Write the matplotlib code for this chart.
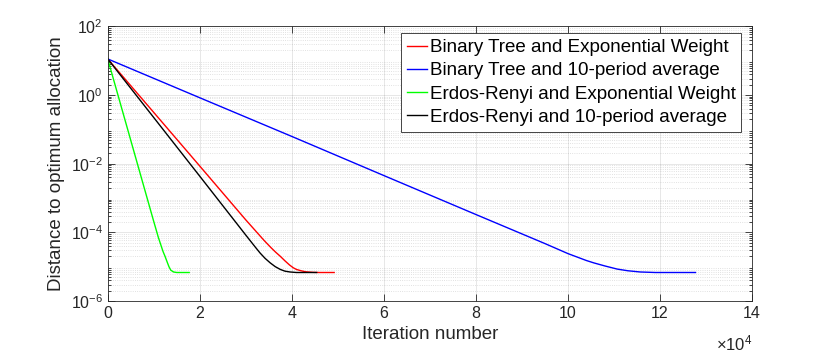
import numpy as np
import matplotlib
matplotlib.use('Agg')
import matplotlib.pyplot as plt
from matplotlib.ticker import FuncFormatter, LogLocator, NullFormatter, NullLocator

plt.rcParams['font.family'] = ['Liberation Sans', 'DejaVu Sans']
plt.rcParams['mathtext.fontset'] = 'custom'
plt.rcParams['mathtext.rm'] = 'Liberation Sans'
plt.rcParams['mathtext.it'] = 'Liberation Sans:italic'

# values (iterations, distance)
bt_exp_x = [0, 1e4, 2e4, 3e4, 3.2e4, 3.4e4, 3.55e4, 3.65e4, 3.75e4, 3.85e4, 3.95e4, 4.03e4,
            4.1e4, 4.2e4, 4.3e4, 4.45e4, 4.6e4, 4.92e4]
bt_exp_y = [11.2, 0.31, 8.5e-3, 2.3e-4, 1.15e-4, 5.75e-5, 3.55e-5, 2.63e-5, 2.0e-5, 1.48e-5,
            1.12e-5, 9.3e-6, 8.3e-6, 7.6e-6, 7.1e-6, 6.84e-6, 6.76e-6, 6.76e-6]

bt_avg_x = [0, 2e4, 4e4, 6e4, 8e4, 9.5e4, 10.0e4, 10.4e4, 10.56e4, 10.8e4, 11.07e4, 11.3e4,
            11.57e4, 11.9e4, 12.77e4]
bt_avg_y = [11.2, 0.83, 0.062, 4.5e-3, 3.3e-4, 4.7e-5, 2.4e-5, 1.51e-5, 1.29e-5, 1.05e-5,
            8.5e-6, 7.6e-6, 7.0e-6, 6.76e-6, 6.76e-6]

er_exp_x = [0, 0.5e4, 0.99e4, 1.1e4, 1.2e4, 1.245e4, 1.29e4, 1.33e4, 1.37e4, 1.43e4, 1.5e4, 1.77e4]
er_exp_y = [11.2, 0.048, 2.3e-4, 7.1e-5, 2.8e-5, 2.0e-5, 1.38e-5, 1.0e-5, 7.9e-6, 7.0e-6,
            6.76e-6, 6.76e-6]

er_avg_x = [0, 1e4, 2e4, 3e4, 3.2e4, 3.31e4, 3.42e4, 3.53e4, 3.64e4, 3.75e4, 3.85e4, 3.96e4,
            4.1e4, 4.54e4]
er_avg_y = [11.2, 0.22, 4.3e-3, 8.3e-5, 3.8e-5, 2.5e-5, 1.74e-5, 1.29e-5, 1.0e-5, 8.3e-6,
            7.4e-6, 7.0e-6, 6.76e-6, 6.76e-6]

labels = ['Binary Tree and Exponential Weight', 'Binary Tree and 10-period average',
          'Erdos-Renyi and Exponential Weight', 'Erdos-Renyi and 10-period average']

axc = '#262626'

fig = plt.figure(figsize=(8.3, 3.56), dpi=100)
ax = fig.add_axes([0.1298, 0.1545, 0.7763, 0.7716])

ax.plot(bt_exp_x, bt_exp_y, color='#ff0000', lw=1.0, label=labels[0])
ax.plot(bt_avg_x, bt_avg_y, color='#0000ff', lw=1.0, label=labels[1])
ax.plot(er_exp_x, er_exp_y, color='#00ff00', lw=1.0, label=labels[2])
ax.plot(er_avg_x, er_avg_y, color='#000000', lw=1.0, label=labels[3])

ax.set_yscale('log')
ax.set_xlim(0, 14e4)
ax.set_ylim(1e-6, 1e2)
ax.set_xticks(np.arange(0, 14.1e4, 2e4))
ax.xaxis.set_major_formatter(FuncFormatter(lambda v, p: '%d' % round(v / 1e4)))
ax.xaxis.set_minor_locator(NullLocator())
ax.set_yticks([1e-6, 1e-4, 1e-2, 1e0, 1e2])
ax.yaxis.set_major_formatter(FuncFormatter(lambda v, p: r'$10^{%d}$' % round(np.log10(v))))
ax.yaxis.set_minor_locator(LogLocator(base=10, subs=np.arange(2, 10), numticks=20))
ax.yaxis.set_minor_formatter(NullFormatter())

ax.grid(True, which='major', color=axc, alpha=0.13, lw=0.6)
ax.grid(True, which='minor', axis='y', color=axc, alpha=0.18, lw=0.6, ls=':')
ax.set_axisbelow(True)

ax.tick_params(which='both', direction='in', top=True, right=True, colors=axc,
               labelsize=11.5, labelcolor='#262626')
ax.tick_params(which='major', length=5, width=0.6)
ax.tick_params(which='minor', length=2.5, width=0.6)
for s in ax.spines.values():
    s.set_color(axc)
    s.set_linewidth(0.6)

ax.set_xlabel('Iteration number', fontsize=13.5, color='#262626', labelpad=4)
ax.set_ylabel('Distance to optimum allocation', fontsize=13.5, color='#262626', labelpad=4)
ax.text(1.0, -0.155, r'$\times10^{4}$', transform=ax.transAxes, ha='right', va='center',
        fontsize=12, color='#262626')

leg = ax.legend(loc='upper right', bbox_to_anchor=(0.983, 0.9745), borderaxespad=0,
                fontsize=13.5, handlelength=1.05, handletextpad=0.15, labelspacing=0.33,
                borderpad=0.3, fancybox=False, framealpha=1, edgecolor=axc)
leg.get_frame().set_linewidth(0.6)

fig.savefig('out.png', dpi=100)
